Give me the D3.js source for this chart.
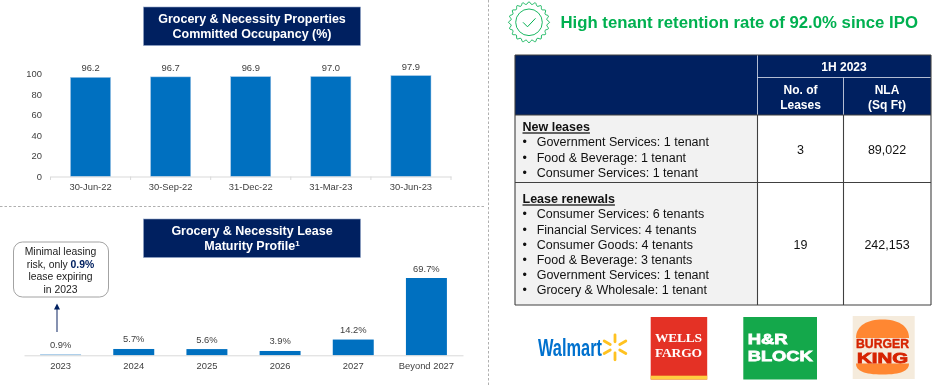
<!DOCTYPE html>
<html>
<head>
<meta charset="utf-8">
<script src="https://cdn.jsdelivr.net/npm/d3@7"></script>
<style>
  html, body { margin: 0; padding: 0; background: #fff; }
  svg { display: block; filter: blur(0.3px); }
  text { font-family: "Liberation Sans", Arial, sans-serif; }
  .axis-label { font-size: 9.4px; fill: #404040; }
  .value-label { font-size: 9.4px; fill: #404040; }
  .banner { font-size: 12.5px; font-weight: bold; fill: #fff; }
  .head { font-size: 12px; font-weight: bold; fill: #fff; }
  .cell { font-size: 12.5px; fill: #111; }
</style>
</head>
<body>
<div id="chart"></div>
<script>
const occupancyDates = ['30-Jun-22', '30-Sep-22', '31-Dec-22', '31-Mar-23', '30-Jun-23'];
const occupancyValues = [96.2, 96.7, 96.9, 97.0, 97.9];
const occupancyTicks = [0, 20, 40, 60, 80, 100];

const maturityYears = ['2023', '2024', '2025', '2026', '2027', 'Beyond 2027'];
const maturityValues = [0.9, 5.7, 5.6, 3.9, 14.2, 69.7];

const newLeases = ['Government Services: 1 tenant', 'Food & Beverage: 1 tenant', 'Consumer Services: 1 tenant'];
const leaseRenewals = ['Consumer Services: 6 tenants', 'Financial Services: 4 tenants', 'Consumer Goods: 4 tenants',
  'Food & Beverage: 3 tenants', 'Government Services: 1 tenant', 'Grocery & Wholesale: 1 tenant'];

const navy = '#002060', blue = '#0070c0', green = '#00b050', rule = '#404040';

const svg = d3.select('#chart').append('svg').attr('width', 936).attr('height', 386);

// Navy title boxes above each chart
function banner(y, lines, sup) {
  svg.append('rect').attr('x', 143.5).attr('y', y).attr('width', 217).attr('height', 38.5)
    .attr('fill', navy).attr('stroke', '#8fa3c7').attr('stroke-width', 0.6);
  lines.forEach((line, i) => {
    const t = svg.append('text').attr('class', 'banner').attr('x', 252).attr('y', y + 16 + i * 15.3)
      .attr('text-anchor', 'middle').text(line);
    if (sup && i === lines.length - 1) {
      t.append('tspan').attr('font-size', 8).attr('dy', -4).text(sup);
    }
  });
}
banner(7, ['Grocery & Necessity Properties', 'Committed Occupancy (%)']);
banner(219, ['Grocery & Necessity Lease', 'Maturity Profile'], '1');

// Occupancy chart
const x1 = d3.scaleBand().domain(occupancyDates).range([50.5, 451]).paddingInner(0.5).paddingOuter(0.25);
const y1 = d3.scaleLinear().domain([0, 100]).range([176.5, 73.5]);

svg.append('g').selectAll('rect').data(occupancyValues).join('rect')
  .attr('x', (d, i) => x1(occupancyDates[i]))
  .attr('y', d => y1(d))
  .attr('width', x1.bandwidth())
  .attr('height', d => y1(0) - y1(d))
  .attr('fill', blue).attr('stroke', '#9dc3e6').attr('stroke-width', 0.5);

svg.append('g').selectAll('text').data(occupancyValues).join('text')
  .attr('class', 'value-label').attr('text-anchor', 'middle')
  .attr('x', (d, i) => x1(occupancyDates[i]) + x1.bandwidth() / 2)
  .attr('y', d => y1(d) - 6)
  .text(d => d.toFixed(1));

const xAxis1 = svg.append('g').attr('transform', 'translate(0,176.5)')
  .call(d3.axisBottom(x1).tickSize(0).tickPadding(7));
xAxis1.select('.domain').attr('stroke', '#d9d9d9');
xAxis1.selectAll('text').attr('class', 'axis-label').attr('font-family', null).attr('font-size', null);
// divider ticks between the categories
svg.append('g').selectAll('line').data(d3.range(occupancyDates.length + 1)).join('line')
  .attr('x1', i => 50.5 + i * x1.step()).attr('x2', i => 50.5 + i * x1.step())
  .attr('y1', 176.5).attr('y2', 180).attr('stroke', '#d9d9d9');

const yAxis1 = svg.append('g').attr('transform', 'translate(44,0)')
  .call(d3.axisLeft(y1).tickValues(occupancyTicks).tickSize(0).tickPadding(2));
yAxis1.select('.domain').remove();
yAxis1.selectAll('text').attr('class', 'axis-label').attr('font-family', null).attr('font-size', null);

// Dashed dividers between the panels
svg.append('line').attr('x1', 0).attr('x2', 486).attr('y1', 206.5).attr('y2', 206.5)
  .attr('stroke', '#a6a6a6').attr('stroke-width', 0.9).attr('stroke-dasharray', '2.5 2');
svg.append('line').attr('x1', 488.5).attr('x2', 488.5).attr('y1', 0).attr('y2', 386)
  .attr('stroke', '#a6a6a6').attr('stroke-width', 0.9).attr('stroke-dasharray', '2.5 2');

// Lease maturity chart
const x2 = d3.scaleBand().domain(maturityYears).range([24, 463]).paddingInner(0.44).paddingOuter(0.22);
const y2 = d3.scaleLinear().domain([0, 69.7]).range([355.3, 278]);

svg.append('g').selectAll('rect').data(maturityValues).join('rect')
  .attr('x', (d, i) => x2(maturityYears[i]))
  .attr('y', d => y2(d))
  .attr('width', x2.bandwidth())
  .attr('height', d => y2(0) - y2(d))
  .attr('fill', (d, i) => i === 0 ? '#8dbde3' : blue);

svg.append('g').selectAll('text').data(maturityValues).join('text')
  .attr('class', 'value-label').attr('text-anchor', 'middle')
  .attr('x', (d, i) => x2(maturityYears[i]) + x2.bandwidth() / 2)
  .attr('y', d => y2(d) - 6.5)
  .text(d => d.toFixed(1) + '%');

const xAxis2 = svg.append('g').attr('transform', 'translate(0,355.3)')
  .call(d3.axisBottom(x2).tickSize(0).tickPadding(7));
xAxis2.select('.domain').attr('stroke', '#d9d9d9');
xAxis2.selectAll('text').attr('class', 'axis-label').attr('font-family', null).attr('font-size', null);

// Callout and arrow over the 2023 bar
svg.append('rect').attr('x', 13.5).attr('y', 242).attr('width', 95).attr('height', 55).attr('rx', 9)
  .attr('fill', '#fff').attr('stroke', '#8c8c8c').attr('stroke-width', 0.8);
const callout = svg.append('g').attr('font-size', 10.4).attr('fill', '#222').attr('text-anchor', 'middle');
callout.append('text').attr('x', 60.5).attr('y', 255).text('Minimal leasing');
const riskLine = callout.append('text').attr('x', 60.5).attr('y', 268);
riskLine.append('tspan').text('risk, only ');
riskLine.append('tspan').attr('font-weight', 'bold').attr('fill', navy).text('0.9%');
callout.append('text').attr('x', 60.5).attr('y', 280).text('lease expiring');
callout.append('text').attr('x', 60.5).attr('y', 293).text('in 2023');

svg.append('line').attr('x1', 57).attr('x2', 57).attr('y1', 332).attr('y2', 308)
  .attr('stroke', '#34497c').attr('stroke-width', 1.2);
svg.append('path').attr('d', 'M57,303.5L60,309.5L54,309.5Z').attr('fill', navy);

// Retention badge
const badge = svg.append('g').attr('transform', 'translate(529,22.3)')
  .attr('fill', 'none').attr('stroke', green);
const scallop = d3.range(0, 40).map(i => [i * Math.PI * 2 / 40, i % 2 ? 18 : 20.5]);
badge.append('path').attr('stroke-width', 0.9)
  .attr('d', d3.lineRadial().curve(d3.curveCatmullRomClosed)(scallop));
badge.append('circle').attr('r', 13.3).attr('stroke-width', 0.9);
badge.append('path').attr('stroke-width', 1).attr('d', 'M-6,0L-1.5,4.5L6.5,-4');

svg.append('text').attr('x', 560.5).attr('y', 28).attr('font-size', 16.75).attr('font-weight', 'bold')
  .attr('fill', green).text('High tenant retention rate of 92.0% since IPO');

// Table
const tx = 515, tc1 = 757.5, tc2 = 843.5, tr = 931;
const ty0 = 55, ty1 = 77.5, ty2 = 115, ty3 = 182.5, ty4 = 305;

svg.append('rect').attr('x', tx).attr('y', ty0).attr('width', tr - tx).attr('height', ty2 - ty0).attr('fill', navy);
svg.append('rect').attr('x', tx).attr('y', ty2).attr('width', tc1 - tx).attr('height', ty4 - ty2).attr('fill', '#f2f2f2');

const headRules = [[tc1, ty0, tc1, ty2], [tc1, ty1, tr, ty1], [tc2, ty1, tc2, ty2]];
svg.append('g').selectAll('line').data(headRules).join('line')
  .attr('x1', d => d[0]).attr('y1', d => d[1]).attr('x2', d => d[2]).attr('y2', d => d[3])
  .attr('stroke', '#dfe5f0').attr('stroke-width', 0.8);

const bodyRules = [[tx, ty0, tr, ty0], [tx, ty2, tr, ty2], [tx, ty3, tr, ty3], [tx, ty4, tr, ty4],
  [tx, ty0, tx, ty4], [tr, ty0, tr, ty4], [tc1, ty2, tc1, ty4], [tc2, ty2, tc2, ty4]];
svg.append('g').selectAll('line').data(bodyRules).join('line')
  .attr('x1', d => d[0]).attr('y1', d => d[1]).attr('x2', d => d[2]).attr('y2', d => d[3])
  .attr('stroke', rule).attr('stroke-width', 1.1);

const headCells = [['1H 2023', 844, 67], ['No. of', 800.5, 89.5], ['Leases', 800.5, 104.5], ['NLA', 887, 89.5], ['(Sq Ft)', 887, 104.5]];
svg.append('g').selectAll('text').data(headCells).join('text')
  .attr('class', 'head').attr('text-anchor', 'middle')
  .attr('x', d => d[1]).attr('y', d => d[2]).attr('dy', '.35em').text(d => d[0]);

function leaseBlock(title, items, top) {
  svg.append('text').attr('class', 'cell').attr('x', 522.5).attr('y', top).attr('dy', '.35em')
    .attr('font-weight', 'bold').attr('text-decoration', 'underline').text(title);
  const row = svg.append('g').selectAll('g').data(items).join('g')
    .attr('transform', (d, i) => `translate(0,${top + 15.1 * (i + 1)})`);
  row.append('text').attr('class', 'cell').attr('x', 522.5).attr('dy', '.35em').text('•');
  row.append('text').attr('class', 'cell').attr('x', 536.7).attr('dy', '.35em').text(d => d);
}
leaseBlock('New leases', newLeases, 127);
leaseBlock('Lease renewals', leaseRenewals, 199);

const bodyCells = [['3', 800.5, 149.5], ['89,022', 887, 149.5], ['19', 800.5, 244.5], ['242,153', 887, 244.5]];
svg.append('g').selectAll('text').data(bodyCells).join('text')
  .attr('class', 'cell').attr('text-anchor', 'middle')
  .attr('x', d => d[1]).attr('y', d => d[2]).attr('dy', '.35em').text(d => d[0]);

// Tenant logos
svg.append('text').attr('x', 538).attr('y', 355.5).attr('font-size', 23).attr('font-weight', 'bold')
  .attr('fill', '#0071ce').attr('textLength', 64).attr('lengthAdjust', 'spacingAndGlyphs').text('Walmart');
svg.append('g').attr('transform', 'translate(615,347.3)').selectAll('line').data(d3.range(6)).join('line')
  .attr('y1', -5.5).attr('y2', -12.5)
  .attr('transform', i => `rotate(${i * 60})`)
  .attr('stroke', '#ffc220').attr('stroke-width', 2.8).attr('stroke-linecap', 'round');

svg.append('rect').attr('x', 650.7).attr('y', 317).attr('width', 56.5).attr('height', 62.5).attr('fill', '#e43125');
svg.append('rect').attr('x', 650.7).attr('y', 375.7).attr('width', 56.5).attr('height', 3.8).attr('fill', '#ffcd41');
[['WELLS', 342], ['FARGO', 357]].forEach(d => {
  svg.append('text').attr('x', 678.5).attr('y', d[1]).attr('text-anchor', 'middle')
    .attr('font-size', 13.5).attr('font-weight', 'bold').attr('fill', '#fff')
    .style('font-family', '"Liberation Serif", serif').attr('textLength', 47).text(d[0]);
});

svg.append('rect').attr('x', 743.3).attr('y', 317).attr('width', 73.7).attr('height', 62.5).attr('fill', '#14a84b');
svg.append('text').attr('x', 747.7).attr('y', 343.5).attr('font-size', 15.5).attr('font-weight', 'bold')
  .attr('fill', '#fff').attr('stroke', '#fff').attr('stroke-width', 0.8)
  .attr('textLength', 40).attr('lengthAdjust', 'spacingAndGlyphs').text('H&R');
svg.append('text').attr('x', 747.7).attr('y', 361).attr('font-size', 15.5).attr('font-weight', 'bold')
  .attr('fill', '#fff').attr('stroke', '#fff').attr('stroke-width', 0.8)
  .attr('textLength', 65).attr('lengthAdjust', 'spacingAndGlyphs').text('BLOCK');

svg.append('rect').attr('x', 852.7).attr('y', 316).attr('width', 62).attr('height', 63).attr('fill', '#f5ebdc');
svg.append('path').attr('d', 'M856,338C856,325 868,319.5 882.5,319.5C897,319.5 909,325 909,338Z').attr('fill', '#ff8732');
svg.append('path').attr('d', 'M856,363.5L909,363.5C909,371 901,374.5 882.5,374.5C864,374.5 856,371 856,363.5Z').attr('fill', '#ff8732');
svg.append('text').attr('x', 882.5).attr('y', 347.5).attr('text-anchor', 'middle').attr('font-size', 13)
  .attr('font-weight', 'bold').attr('fill', '#d62300').attr('stroke', '#d62300').attr('stroke-width', 0.4)
  .attr('textLength', 53).attr('lengthAdjust', 'spacingAndGlyphs').text('BURGER');
svg.append('text').attr('x', 882.5).attr('y', 363).attr('text-anchor', 'middle').attr('font-size', 14)
  .attr('font-weight', 'bold').attr('fill', '#d62300').attr('stroke', '#d62300').attr('stroke-width', 0.8)
  .attr('textLength', 51).attr('lengthAdjust', 'spacingAndGlyphs').text('KING');
</script>
</body>
</html>
